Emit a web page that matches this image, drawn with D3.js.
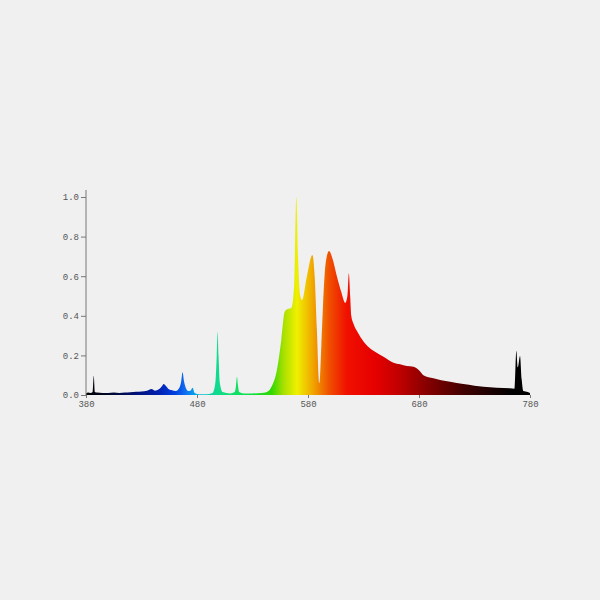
<!DOCTYPE html>
<html>
<head>
<meta charset="utf-8">
<script src="https://cdn.jsdelivr.net/npm/d3@7"></script>
<style>
    html, body { margin: 0; padding: 0; background: #f0f0f0; }
    .tick text { font-family: "Liberation Mono", "DejaVu Sans Mono", monospace; font-size: 9px; fill: #555; }
    .tick line, .domain { stroke: #777; }
</style>
</head>
<body>
<script>
// spectrum samples (nm, relative intensity)
const wavelengths = [380, 382, 384, 386, 387, 388, 390, 395, 400, 405, 410, 415, 420, 425, 430, 435, 439, 442,
    446, 448.5, 450, 452, 454, 457, 461, 464, 465.8, 467, 468.3, 470, 472, 474, 476, 478, 482, 488, 494, 496.5,
    497.8, 498.6, 499.4, 500.6, 503, 510, 514, 515.2, 516, 516.9, 518, 522, 530, 538, 543, 547, 552, 556, 559, 562,
    565, 567.5, 569.5, 571, 573, 574.5, 579, 584, 586, 588, 590.2, 592, 593.5, 596, 599, 602, 606, 610, 613.5,
    615.5, 616.8, 618, 619, 621, 625, 630, 635, 640, 648, 657, 663, 669, 675, 680, 684, 693, 700, 708, 720, 730, 738,
    750, 762, 766, 767.7, 769, 771, 772.5, 774, 778, 780];
const intensity = [0.008, 0.012, 0.01, 0.015, 0.097, 0.015, 0.012, 0.01, 0.01, 0.012, 0.01, 0.012, 0.014, 0.016, 0.018,
    0.022, 0.03, 0.022, 0.03, 0.045, 0.055, 0.045, 0.032, 0.025, 0.02, 0.035, 0.07, 0.115, 0.07, 0.035, 0.02, 0.022,
    0.037, 0.01, 0.004, 0.004, 0.01, 0.06, 0.2, 0.32, 0.2, 0.06, 0.015, 0.008, 0.015, 0.05, 0.092, 0.05, 0.015,
    0.008, 0.008, 0.01, 0.015, 0.04, 0.126, 0.28, 0.42, 0.435, 0.44, 0.55, 1.0, 0.7, 0.5, 0.48, 0.6, 0.707, 0.6,
    0.33, 0.06, 0.25, 0.45, 0.67, 0.727, 0.69, 0.6, 0.52, 0.465, 0.5, 0.615, 0.5, 0.4, 0.36, 0.315, 0.27, 0.24, 0.22,
    0.193, 0.163, 0.155, 0.146, 0.143, 0.125, 0.1, 0.084, 0.075, 0.067, 0.055, 0.047, 0.042, 0.037, 0.034, 0.032,
    0.224, 0.14, 0.197, 0.08, 0.02, 0.015, 0.01];
const xTicks = [380, 480, 580, 680, 780];
const yTicks = [0, 0.2, 0.4, 0.6, 0.8, 1.0];

// colour of the fill along the wavelength axis
const spectrumStops = [
    [380, "#000000"], [400, "#000828"], [420, "#000f68"], [445, "#0020b0"], [460, "#0040e0"],
    [470, "#1070f0"], [480, "#00b0e8"], [495, "#10d898"], [510, "#10e070"], [530, "#10e040"],
    [547, "#30d800"], [558, "#a8e000"], [570, "#f0f000"], [584, "#f0a800"], [599, "#f05000"],
    [615, "#f01000"], [640, "#e60000"], [660, "#c40000"], [690, "#800000"], [720, "#420000"],
    [750, "#120000"], [765, "#000000"], [780, "#000000"]
];

const width = 600, height = 600;
const margin = { left: 86, right: 70, top: 197, bottom: 205 };

const svg = d3.select("body").append("svg")
    .attr("width", width)
    .attr("height", height);

const x = d3.scaleLinear().domain([380, 780]).range([margin.left, width - margin.right]);
const y = d3.scaleLinear().domain([0, 1]).range([height - margin.bottom, margin.top]);

const grad = svg.append("defs").append("linearGradient")
    .attr("id", "spectrum")
    .attr("gradientUnits", "userSpaceOnUse")
    .attr("x1", x(380)).attr("x2", x(780))
    .attr("y1", 0).attr("y2", 0);
grad.selectAll("stop")
    .data(spectrumStops)
    .enter().append("stop")
    .attr("offset", d => (d[0] - 380) / 400)
    .attr("stop-color", d => d[1]);

const points = wavelengths.map((w, i) => [w, intensity[i]]);

const area = d3.area()
    .x(d => x(d[0]))
    .y0(y(0))
    .y1(d => y(d[1]))
    .curve(d3.curveMonotoneX);

svg.append("path")
    .datum(points)
    .attr("fill", "url(#spectrum)")
    .attr("d", area);

svg.append("g")
    .attr("transform", `translate(0,${y(0)})`)
    .call(d3.axisBottom(x).tickValues(xTicks).tickSize(3).tickPadding(3).tickFormat(d3.format("d")))
    .call(g => g.select(".domain").remove());

svg.append("g")
    .attr("transform", `translate(${x(380)},0)`)
    .call(d3.axisLeft(y).tickValues(yTicks).tickSize(5).tickPadding(2).tickFormat(d3.format(".1f")))
    .call(g => g.select(".domain").attr("d", `M0,${y(0)}V${y(1) - 7}`));
</script>
</body>
</html>
